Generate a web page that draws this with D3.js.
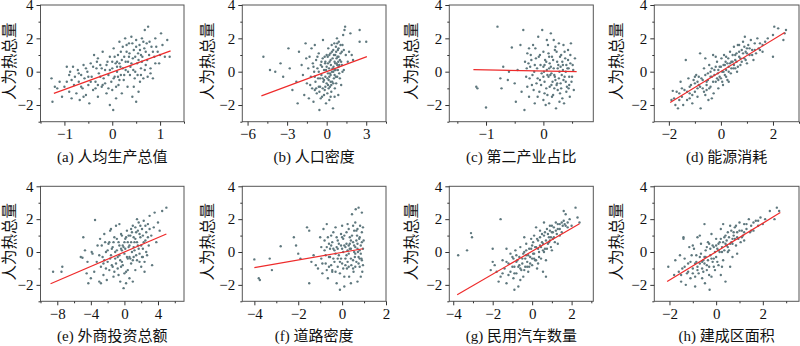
<!DOCTYPE html>
<html><head><meta charset="utf-8">
<script src="https://cdn.jsdelivr.net/npm/d3@7/dist/d3.min.js"></script>
<style>html,body{margin:0;padding:0;background:#fff;}svg{display:block;}</style>
</head><body>
<svg id="chart" width="800" height="346"></svg>
<script>
const captions = ["(a) 人均生产总值","(b) 人口密度","(c) 第二产业占比","(d) 能源消耗","(e) 外商投资总额","(f) 道路密度","(g) 民用汽车数量","(h) 建成区面积"];
const yLabel = "人为热总量";
const yDomain = [-3, 4];
const yTicks = [-2, 0, 2, 4];
const yMinor = [-3, -1, 1, 3];
const xDomains = [[-1.5,1.5],[-6.4,4.5],[-1.64,0.87],[-2.56,3.0],[-10,7.1],[-4.55,2],[-4.2,3.1],[-2.65,3.55]];
const xTicks = [[-1,0,1],[-6,-3,0,3],[-1,0],[-2,0,2],[-8,-4,0,4],[-4,-2,0,2],[-4,-2,0,2],[-2,0,2]];
const xMinor = [[-1.5,-0.5,0.5,1.5],[-4.5,-1.5,1.5,4.5],[-1.5,-0.5,0.5],[-1,1,3],[-10,-6,-2,2,6],[-3,-1,1],[-3,-1,1,3],[-1,1,3]];
const fitX = [[-1.22,1.22],[-4.95,3.05],[-1.22,0.58],[-1.95,2.45],[-8.8,5.0],[-4.0,0.95],[-3.8,2.4],[-2.1,2.75]];
const fitY = [[-1.3,1.25],[-1.45,0.9],[0.12,0.0],[-1.85,2.35],[-1.93,1.1],[-0.95,0.2],[-2.6,1.72],[-1.8,2.4]];

const ptsA = [[-1.27,-0.4],[-1.25,-1.8],[-1.15,-1.0],[-1.1,-0.6],[-1.05,-1.5],[-1.0,-0.9],[-0.95,0.3],[-0.9,-0.2],[-0.9,-1.2],[-0.88,0.0],[-0.85,-0.5],[-0.85,-1.6],[-0.82,0.3],[-0.8,-0.8],
[-0.78,-0.3],[-0.75,-1.3],[-0.72,0.1],[-0.7,-0.6],[-0.68,-1.7],[-0.65,-0.2],[-0.62,-1.0],[-0.6,0.4],[-0.58,-0.4],[-0.55,-1.4],[-0.52,0.0],[-0.5,-0.8],[-0.48,-1.9],[-0.45,0.5],[-0.43,-0.3],[-0.4,-1.1],[-0.38,1.0],[-0.35,-0.6],[-0.33,0.2],[-0.3,-1.5],[-0.3,0.8],
[-0.28,-0.1],[-0.25,0.4],[-0.22,-0.9],[-0.2,1.2],[-0.18,-0.4],[-0.15,0.1],[-0.12,-1.3],[-0.1,0.6],[-0.08,-0.2],[-0.05,-2.0],[-0.05,0.9],[-0.02,-0.6],[0.0,0.2],[0.0,-1.1],[0.02,-2.3],[0.03,1.4],[0.05,-0.3],[0.07,0.5],[0.08,-1.6],[0.1,0.0],[0.12,1.0],[0.13,-0.8],[0.15,1.8],[0.17,0.3],[0.18,-0.2],[0.2,-1.3],[0.2,0.7],
[0.22,1.5],[0.24,-0.5],[0.25,0.9],[0.27,2.0],[0.28,0.1],[0.3,1.2],[0.32,-0.9],[0.33,0.6],[0.35,1.7],[0.37,-0.2],[0.38,0.3],[0.4,2.1],[0.42,-1.5],[0.43,0.8],[0.45,1.3],[0.47,-0.4],[0.48,0.0],[0.5,1.9],[0.5,-1.8],[0.52,0.5],[0.54,1.1],[0.55,-1.2],[0.57,1.6],[0.58,-0.6],[0.6,0.2],
[0.62,2.0],[0.63,0.9],[0.65,-0.4],[0.67,1.4],[0.68,2.5],[0.7,0.4],[0.72,1.7],[0.74,-0.3],[0.75,2.7],[0.77,1.0],[0.8,0.2],[0.82,1.5],[0.85,-0.4],[0.88,0.9],[0.9,2.0],[0.95,1.2],[0.98,0.5],[1.02,2.3],[1.05,1.6],[1.1,0.9],[1.15,1.9],[1.2,0.9],
[-0.6,-1.5],[-0.2,-0.8],[0.1,0.6],[0.35,0.9],[0.45,-0.9],[-0.4,0.3],[0.6,1.0],[0.15,-0.5],
[-0.95,-0.6],[-0.7,-0.1],[-0.65,-0.9],[-0.55,0.2],[-0.5,-0.3],[-0.45,-0.6],[-0.35,-1.0],[-0.32,0.6],[-0.25,-0.3],[-0.22,0.2],[-0.15,-0.7],[-0.12,0.4],[-0.08,-1.0],[-0.05,0.1],[0.0,0.6],[0.03,-0.4],[0.05,0.9],[0.08,-0.9],[0.1,0.3],[0.12,-0.3],[0.15,0.5],[0.18,1.2],[0.22,0.2],[0.25,-0.2],[0.28,0.6],[0.3,1.6],[0.33,0.0],[0.36,1.1],[0.4,0.5],[0.42,1.7],[0.44,0.1],[0.48,0.9],[0.5,1.5],[0.53,-0.2],[0.55,0.7],[0.58,1.3],[0.6,-0.2],[0.62,0.6],[0.65,1.8],[0.68,0.1],[0.7,1.2],[0.73,0.7],[0.78,1.8],[0.8,-0.1],[0.85,1.2],[0.9,0.5],[0.92,1.5],[1.0,1.0],[-1.2,-0.9],[-0.3,-0.8]];

const ptsB = [[-4.8,0.9],[-4.3,0.1],[-3.9,0.0],[-3.5,0.5],[-3.3,-0.3],[-2.9,1.4],[-2.8,0.2],[-2.6,-1.1],[-2.3,-0.6],[-2.2,-1.9],[-2.1,1.2],[-1.9,0.4],[-1.8,-0.2],[-1.7,-1.4],[-1.6,1.7],[-1.55,0.8],[-1.5,-0.7],
[-1.4,0.2],[-1.35,-1.6],[-1.3,0.9],[-1.2,-0.3],[-1.15,1.4],[-1.1,-1.0],[-1.05,0.5],[-1.0,-1.8],[-0.95,0.0],[-0.9,1.6],[-0.85,-0.6],[-0.8,0.7],[-0.75,-1.3],[-0.7,0.2],[-0.65,-0.4],[-0.6,1.1],[-0.55,-2.3],[-0.5,-0.9],[-0.45,0.4],[-0.4,-0.2],[-0.35,-1.5],[-0.3,0.8],[-0.28,1.9],[-0.25,-0.6],[-0.2,0.1],[-0.15,-1.1],[-0.12,0.5],[-0.1,-0.3],[-0.05,-1.9],[0.0,0.3],[0.0,-0.7],
[0.05,-1.3],[0.08,0.9],[0.1,-0.1],[0.12,1.4],[0.15,-0.5],[0.18,0.2],[0.2,-1.7],[0.22,0.6],[0.25,-0.9],[0.28,1.1],[0.3,-0.2],[0.32,0.4],[0.35,-1.2],[0.38,1.6],[0.4,0.0],[0.42,-0.6],[0.45,0.8],[0.48,-2.2],[0.5,1.3],[0.52,0.3],[0.55,-0.4],[0.58,1.7],[0.6,0.6],[0.62,-1.0],[0.65,1.0],[0.68,0.1],[0.7,1.5],[0.72,-0.7],[0.75,0.5],[0.78,2.0],[0.8,-0.3],[0.82,0.9],[0.85,1.3],[0.88,-1.4],[0.9,0.3],[0.92,1.8],[0.95,-0.1],[1.0,0.7],[1.05,1.1],[1.1,-0.8],[1.15,0.4],[1.2,1.6],[1.25,2.2],[1.3,0.1],[1.35,2.5],[1.4,2.7],[1.45,1.0],
[1.6,0.6],[1.7,1.2],[1.8,2.3],[1.9,1.0],[2.0,0.7],[2.5,2.5],[2.5,1.8],[3.0,1.8],
[-0.6,-0.9],[-0.3,-0.4],[0.3,-0.6],[0.6,-0.2],[-0.9,-1.1],[0.2,-0.3],[0.9,0.9],[-0.1,0.6],
[-1.25,-0.8],[-1.0,0.3],[-0.9,-0.3],[-0.8,-1.0],[-0.7,0.9],[-0.6,0.0],[-0.5,-0.4],[-0.45,-1.6],[-0.4,0.6],[-0.3,-1.0],[-0.2,-0.5],[-0.15,0.9],[-0.1,-0.9],[-0.05,0.1],[0.0,1.0],[0.05,-0.4],[0.1,0.5],[0.15,-1.0],[0.2,1.0],[0.25,-0.1],[0.3,0.7],[0.35,-0.8],[0.4,1.2],[0.45,0.2],[0.5,-0.7],[0.55,1.0],[0.6,0.1],[0.65,0.5],[0.7,-0.3],[0.72,1.2],[0.75,0.8],[0.8,1.7],[0.85,0.1],[0.88,0.6],[0.9,1.4],[0.95,0.4],[1.0,-0.4],[1.05,1.6],[1.1,0.6],[1.15,1.2],[1.2,0.0],[1.3,1.3],[-0.55,-1.2],[0.3,-1.5],[0.6,-1.5],[-0.35,0.3],[0.1,-0.8],[0.5,0.0],[-0.2,-1.4],[0.8,0.4]];

const ptsC = [[-1.17,-0.9],[-1.15,-1.0],[-1.0,-2.15],[-0.8,2.7],[-0.75,-0.4],[-0.73,-1.0],[-0.7,0.3],[-0.62,-0.5],[-0.6,0.0],[-0.55,1.45],[-0.5,-0.7],[-0.48,-1.8],[-0.45,0.1],[-0.4,1.6],[-0.38,-1.2],[-0.35,2.5],[-0.33,-2.3],[-0.32,0.6],
[-0.3,-0.3],[-0.28,1.1],[-0.25,-1.5],[-0.23,0.3],[-0.2,-0.8],[-0.18,1.6],[-0.16,0.0],[-0.15,-1.9],[-0.13,0.8],[-0.1,-0.4],[-0.09,2.1],[-0.07,-1.2],[-0.05,0.4],[-0.03,-0.1],[-0.02,2.5],[0.0,-1.7],[0.0,1.2],[0.02,-0.6],[0.03,0.7],[0.05,-1.0],[0.06,0.1],[0.08,1.6],[0.09,-0.3],[0.1,-1.9],[0.11,0.5],[0.13,2.3],[0.14,-0.8],[0.15,0.9],[0.17,-1.4],[0.18,0.2],[0.2,1.3],[0.21,-0.5],[0.22,-2.2],[0.24,0.6],[0.25,-1.1],[0.27,1.7],[0.28,0.0],[0.3,-0.7],[0.31,1.0],[0.33,-1.6],[0.34,0.4],[0.35,1.6],[0.37,-0.3],[0.38,0.8],[0.4,-1.2],[0.42,0.2],[0.43,1.3],[0.45,-0.8],[0.47,0.5],[0.5,-0.3],[0.52,0.1],[0.55,0.8],
[-0.28,-0.9],[-0.22,1.0],[-0.12,-0.7],[-0.08,0.9],[0.04,-2.0],[0.12,-0.2],[0.19,-1.0],[0.26,0.4],[0.32,-0.2],[0.36,-1.9],[0.44,-1.0],[0.48,1.7],[-0.26,0.5],[-0.14,1.4],[0.0,0.3],[0.16,-0.6],
[-0.06,-0.5],[0.07,-1.4],[0.23,1.2],[0.29,-1.3],[0.39,-0.6],[-0.19,-0.2],[0.1,0.9],[0.46,-1.5],
[-0.29,0.2],[-0.24,-0.4],[-0.21,0.7],[-0.17,-1.1],[-0.11,0.2],[-0.06,1.0],[-0.04,-0.8],[0.01,0.0],[0.02,-1.3],[0.05,0.6],[0.07,-0.2],[0.09,1.1],[0.11,-0.9],[0.13,0.3],[0.15,-1.5],[0.17,0.7],[0.19,-0.2],[0.21,1.5],[0.23,-0.8],[0.25,0.2],[0.27,-0.4],[0.29,0.9],[0.31,-1.0],[0.33,0.6],[0.35,-0.5],[0.37,1.2],[0.39,0.0],[0.41,-0.9],[0.43,0.7],[0.45,-0.3],[0.47,1.0],[0.49,-0.6],[0.51,0.4],[0.53,-1.1],[0.1,0.2],[0.2,-0.3],[0.3,0.3],[0.4,0.4],[0.0,-0.3],[-0.15,0.4],[-0.25,1.4],[0.06,1.9],[0.28,-1.8],[0.18,1.9],[-0.1,-1.5],[0.14,-0.1],[0.24,-0.7],[0.34,0.1],[0.44,0.2],[0.02,0.4]];

const ptsD = [[-1.85,-1.15],[-1.8,-1.6],[-1.75,-2.0],[-1.7,-1.2],[-1.65,-2.2],[-1.6,-1.7],[-1.55,-0.6],[-1.5,-1.5],[-1.45,-2.0],[-1.4,-1.1],[-1.35,0.7],[-1.3,-1.7],[-1.25,-0.4],[-1.2,-1.3],[-1.15,-0.8],[-1.1,-1.9],[-1.05,-0.5],[-1.0,-1.2],[-0.95,-0.2],[-0.9,-1.5],[-0.85,-0.8],[-0.8,1.1],[-0.78,-2.2],[-0.75,-0.4],[-0.7,-1.0],[-0.65,0.2],[-0.6,-1.4],[-0.55,-0.6],[-0.5,-0.1],[-0.48,-1.7],[-0.45,0.4],[-0.4,-0.9],[-0.35,-0.3],[-0.3,1.0],[-0.28,-1.3],[-0.25,0.1],[-0.2,-0.6],[-0.15,0.6],[-0.12,-0.1],[-0.1,-1.0],[-0.05,0.3],[0.0,-0.4],[0.02,0.8],[0.05,0.0],[0.08,-0.8],[0.1,0.4],[0.12,1.0],[0.15,-0.2],[0.18,0.6],[0.2,0.1],[0.25,-0.5],[0.28,0.8],[0.3,0.3],[0.35,1.2],[0.38,-0.1],[0.4,0.6],[0.45,1.0],[0.48,0.2],[0.5,1.5],[0.55,0.7],[0.6,1.1],[0.62,0.0],[0.65,1.6],[0.7,0.9],[0.75,0.4],[0.8,1.3],[0.85,1.8],[0.9,0.8],[0.92,2.1],[0.95,1.2],[1.0,0.5],[1.05,1.6],[1.1,1.0],[1.15,1.9],[1.2,1.3],[1.25,0.7],[1.3,1.7],[1.35,1.1],[1.4,2.0],[1.45,1.4],[1.5,1.7],[1.6,1.2],[1.7,1.8],[1.8,2.0],[2.0,0.9],[2.05,2.7],[2.0,2.2],[2.2,2.6],[2.4,1.9],[2.5,2.5],[2.45,2.3],[-0.6,0.8],[-0.35,-1.6],[0.3,-0.6],[-1.0,-0.3],[0.7,1.6],[-0.2,0.9],
[-0.9,-0.6],[-0.55,-1.1],[-0.1,-0.5],[0.2,0.9],[0.55,0.2],[1.0,1.4],[-1.2,-1.6],[-0.4,0.0],
[-1.9,-1.7],[-1.6,-1.3],[-1.5,-1.0],[-1.3,-1.2],[-1.2,-0.9],[-1.1,-1.4],[-1.0,-0.7],[-0.9,-1.0],[-0.85,-0.3],[-0.8,-0.9],[-0.7,-0.5],[-0.65,-1.2],[-0.6,-0.2],[-0.55,-0.8],[-0.5,-0.5],[-0.45,-1.0],[-0.4,-0.3],[-0.35,0.2],[-0.3,-0.6],[-0.25,-0.2],[-0.2,0.3],[-0.15,-0.4],[-0.1,0.1],[-0.05,-0.3],[0.0,0.3],[0.05,-0.6],[0.1,0.0],[0.15,0.4],[0.2,-0.3],[0.25,0.5],[0.3,0.0],[0.35,0.5],[0.4,0.2],[0.45,0.6],[0.5,0.4],[0.55,1.0],[0.6,0.6],[0.65,0.3],[0.7,1.2],[0.75,0.8],[0.8,0.6],[0.85,1.1],[0.9,1.5],[0.95,0.7],[1.0,1.1],[1.1,1.4],[1.2,1.0],[1.3,1.3],[1.5,1.3],[1.6,1.6]];

const ptsE = [[-8.5,-1.2],[-7.5,-1.2],[-7.4,-0.9],[-5.2,-0.3],[-5.0,-0.35],[-4.9,0.9],[-4.7,0.1],[-4.5,-1.3],[-4.4,-0.6],[-4.3,-1.9],[-4.0,-1.6],[-3.8,-0.1],[-3.6,-1.2],[-3.5,1.95],[-3.3,-0.6],[-3.2,0.4],[-3.0,-1.8],[-2.9,0.8],[-2.8,-0.9],[-2.6,-0.3],[-2.5,-1.4],[-2.4,1.1],[-2.2,0.0],[-2.1,-1.7],[-2.0,-0.6],[-1.9,0.5],[-1.8,-1.1],[-1.7,1.3],[-1.6,-0.2],[-1.5,-0.8],[-1.4,0.3],[-1.3,-1.5],[-1.2,0.9],[-1.1,-0.4],[-1.0,1.6],[-0.9,0.1],[-0.8,-1.0],[-0.7,0.6],[-0.6,-0.2],[-0.5,-1.8],[-0.4,1.1],[-0.3,-0.6],[-0.2,0.4],[-0.1,-2.2],[0.0,-0.1],[0.1,0.8],[0.2,-1.2],[0.3,1.3],[0.4,-0.4],[0.5,0.3],[0.6,-1.6],[0.7,1.0],[0.8,-0.7],[0.9,0.0],[1.0,1.6],[1.1,-0.3],[1.2,0.6],[1.3,-1.1],[1.4,1.2],[1.5,-0.5],[1.6,0.4],[1.7,1.8],[1.8,-0.1],[1.9,0.9],[2.0,-0.9],[2.1,1.4],[2.2,0.2],[2.3,1.9],[2.4,-0.6],[2.5,0.7],[2.6,1.2],[2.7,-0.2],[2.8,1.7],[2.9,0.4],[3.0,2.2],[3.2,1.0],[3.3,-0.8],[3.5,1.5],[3.6,2.4],[3.8,0.6],[4.0,1.8],[4.5,2.5],[5.0,2.7],[4.2,1.3],[-1.6,1.4],[-0.6,1.7],[0.8,1.4],[1.5,2.0],[-2.8,-1.9],[0.2,-1.9],[1.0,-1.8],[2.4,-1.2],[-3.9,0.0],[-0.3,0.1],[0.6,-0.3],[1.3,0.8],
[-1.2,-1.2],[-0.4,-0.9],[0.4,0.6],[1.1,0.3],[1.8,1.1],[2.2,-0.3],[0.0,0.6],[-2.4,-0.5],
[-3.0,-0.2],[-2.7,0.4],[-2.5,-0.7],[-2.3,0.6],[-2.2,-1.0],[-2.0,0.1],[-1.8,0.6],[-1.7,-0.4],[-1.5,0.2],[-1.4,-0.9],[-1.3,0.6],[-1.1,0.0],[-1.0,-0.7],[-0.9,0.8],[-0.8,-0.3],[-0.7,-1.4],[-0.6,0.4],[-0.5,-0.5],[-0.4,0.2],[-0.3,1.0],[-0.2,-0.8],[-0.1,0.3],[0.0,-1.3],[0.1,0.2],[0.2,0.9],[0.3,-0.3],[0.4,-1.1],[0.5,1.0],[0.6,0.4],[0.7,-0.4],[0.8,0.6],[0.9,1.2],[1.0,-0.5],[1.1,0.9],[1.2,0.1],[1.3,1.5],[1.4,-0.2],[1.5,0.6],[1.6,1.3],[1.7,0.2],[1.8,-0.6],[1.9,1.6],[2.0,0.4],[2.1,-0.3],[2.2,1.0],[2.3,0.6],[2.5,1.6],[2.6,0.0],[2.8,0.9],[3.0,1.4]];

const ptsF = [[-4.0,-0.45],[-3.8,-1.6],[-3.75,-1.7],[-3.3,-0.4],[-3.2,-1.1],[-2.8,0.35],[-2.2,0.9],[-2.1,0.4],[-2.0,-0.1],[-1.9,-0.4],[-1.6,1.5],[-1.5,1.3],[-1.4,-0.6],[-1.3,-0.2],[-1.2,-0.8],[-1.1,-1.0],[-1.0,0.9],[-0.9,-1.3],[-0.85,1.4],[-0.8,0.1],[-0.75,-0.7],[-0.7,1.7],[-0.65,-1.6],[-0.6,0.5],[-0.55,-0.3],[-0.5,1.0],[-0.45,-1.1],[-0.4,0.2],[-0.35,-0.6],[-0.3,1.5],[-0.25,-1.9],[-0.2,0.7],[-0.15,-0.2],[-0.1,-1.3],[-0.05,0.4],[0.0,-0.7],[0.0,1.6],[0.05,0.0],[0.1,-2.1],[0.1,1.0],[0.15,-0.4],[0.2,0.5],[0.22,-1.0],[0.25,1.7],[0.3,-0.1],[0.32,-1.5],[0.35,0.9],[0.4,0.2],[0.42,-0.8],[0.45,2.3],[0.5,0.6],[0.52,-1.2],[0.55,1.3],[0.58,-0.3],[0.6,0.3],[0.62,2.6],[0.65,-0.6],[0.68,1.0],[0.7,-1.8],[0.72,0.0],[0.75,2.7],[0.78,0.8],[0.8,-0.9],[0.82,1.6],[0.85,0.4],[0.88,-0.4],[0.9,2.4],[0.9,1.2],[0.92,-1.2],[0.95,0.2],[0.98,0.7],[-0.95,-0.4],[-0.6,-0.9],[-0.4,1.2],[-0.2,-0.9],[0.05,0.8],[0.3,1.4],[0.5,-0.5],[0.7,0.5],[0.85,-1.5],[-0.7,0.3],[-0.3,-0.1],[0.15,0.3],[0.4,-1.9],[0.6,1.8],[0.8,0.1],[-1.5,-1.9],[-0.1,-2.3],[-0.45,-1.2],
[-0.05,-0.4],[0.25,-0.6],[0.55,0.0],[0.75,-0.3],[0.35,0.2],[-0.25,0.3],[0.65,1.3],[0.95,-0.8],
[-0.95,0.3],[-0.9,-0.7],[-0.8,0.7],[-0.75,-0.2],[-0.7,-1.1],[-0.65,0.9],[-0.6,-0.3],[-0.55,0.2],[-0.5,-0.8],[-0.45,0.6],[-0.4,-0.4],[-0.35,0.1],[-0.3,-1.2],[-0.25,0.9],[-0.2,-0.4],[-0.15,0.5],[-0.1,-0.6],[-0.05,1.1],[0.0,0.2],[0.05,-1.0],[0.1,0.4],[0.15,-0.8],[0.2,1.2],[0.25,0.1],[0.3,-0.9],[0.35,0.5],[0.4,-0.4],[0.45,1.0],[0.5,-1.0],[0.55,0.4],[0.6,-0.9],[0.65,0.7],[0.7,1.4],[0.75,-0.7],[0.8,0.9],[0.85,-0.1],[0.9,0.6],[0.95,1.5],[0.2,-0.2],[0.4,0.7],[0.6,-0.1],[0.8,-0.4],[0.0,0.9],[-0.2,0.2],[0.3,0.4],[0.7,0.2],[0.9,-0.5],[0.5,1.6],[0.1,-1.5],[-0.5,0.4]];

const ptsG = [[-3.75,-0.2],[-3.3,0.1],[-3.1,1.15],[-3.05,0.9],[-1.6,2.0],[-2.0,-0.6],[-2.1,-1.1],[-1.9,-0.8],[-1.8,-1.2],[-1.7,-1.8],[-1.6,-1.5],[-1.5,-0.5],[-1.4,-1.0],[-1.3,-1.9],[-1.2,-0.7],[-1.1,-1.2],[-1.0,-0.3],[-0.95,-1.6],[-0.9,-0.9],[-0.85,0.1],[-0.8,-1.3],[-0.75,-0.5],[-0.7,-2.1],[-0.65,-0.8],[-0.6,0.3],[-0.55,-1.1],[-0.5,-0.4],[-0.45,-1.5],[-0.4,0.0],[-0.35,-0.9],[-0.3,0.5],[-0.25,-0.6],[-0.2,-1.2],[-0.15,0.2],[-0.1,-0.3],[-0.05,0.8],[0.0,-0.8],[0.0,0.4],[0.05,-0.1],[0.1,1.0],[0.15,-0.5],[0.2,0.3],[0.25,-1.0],[0.3,0.7],[0.35,0.0],[0.4,1.3],[0.45,-0.4],[0.5,0.6],[0.55,-1.2],[0.6,1.0],[0.65,0.2],[0.7,-0.5],[0.75,1.4],[0.8,0.5],[0.85,0.9],[0.9,1.6],[0.95,0.3],[1.0,1.2],[1.05,0.8],[1.1,1.5],[1.15,0.6],[1.2,1.8],[1.25,1.1],[1.3,1.4],[1.4,1.7],[1.5,1.2],[1.6,2.5],[1.65,1.7],[1.7,2.3],[1.8,1.5],[1.9,2.0],[2.0,1.6],[2.2,2.7],[2.3,2.1],[2.4,1.8],[-2.0,0.2],[-1.3,0.2],[-0.9,-2.3],[-0.4,0.9],[0.2,1.5],[0.7,-1.5],[1.0,0.1],[-0.6,-1.7],[0.3,-0.7],[1.3,0.5],[0.6,1.8],[-1.1,-0.1],
[-0.3,-0.2],[0.1,-0.4],[0.4,0.4],[-0.8,-0.6],[0.9,0.7],[-0.15,-0.9],[0.55,0.1],[1.4,1.0],
[-1.5,-1.3],[-1.3,-0.6],[-1.2,-1.4],[-1.0,-0.9],[-0.95,-0.4],[-0.9,-1.3],[-0.8,-0.2],[-0.7,-0.9],[-0.65,-0.3],[-0.6,-1.0],[-0.5,-0.7],[-0.45,-0.1],[-0.4,-1.1],[-0.35,-0.4],[-0.3,0.1],[-0.25,-0.9],[-0.2,-0.2],[-0.1,-0.7],[-0.05,0.2],[0.0,-0.4],[0.05,0.6],[0.1,-0.1],[0.15,0.3],[0.2,-0.5],[0.25,0.8],[0.3,0.2],[0.35,-0.3],[0.4,0.9],[0.45,0.3],[0.5,1.1],[0.55,0.5],[0.6,0.0],[0.65,1.2],[0.7,0.7],[0.75,0.2],[0.8,1.1],[0.85,0.6],[0.9,1.3],[0.95,0.9],[1.0,1.6],[1.05,1.2],[1.1,0.9],[1.2,1.3],[1.3,1.7],[1.4,1.4],[1.5,1.8],[1.55,1.6],[1.6,1.9],[1.7,1.6],[1.8,1.8]];

const ptsH = [[-2.05,-0.9],[-1.75,-0.5],[-1.6,-1.2],[-1.55,-0.2],[-1.5,-1.8],[-1.45,-1.0],[-1.4,0.8],[-1.4,0.9],[-1.35,-0.4],[-1.3,-2.0],[-1.25,-1.3],[-1.2,-0.7],[-1.15,0.3],[-1.1,-1.6],[-1.05,-0.2],[-1.0,-1.0],[-0.95,0.2],[-0.9,-2.1],[-0.85,-0.6],[-0.8,0.9],[-0.75,-1.3],[-0.7,-0.3],[-0.65,0.5],[-0.6,-1.0],[-0.55,-0.5],[-0.5,1.7],[-0.48,-1.9],[-0.45,0.1],[-0.4,-0.8],[-0.35,0.6],[-0.3,-1.4],[-0.28,-2.3],[-0.25,-0.2],[-0.2,1.1],[-0.15,-0.6],[-0.1,0.3],[-0.05,-1.1],[0.0,0.8],[0.0,-0.3],[0.05,0.2],[0.1,-0.8],[0.15,0.6],[0.2,1.4],[0.25,0.0],[0.3,-0.5],[0.35,0.9],[0.4,-1.8],[0.45,0.4],[0.5,1.2],[0.55,0.1],[0.6,1.6],[0.65,0.6],[0.7,-0.3],[0.75,1.0],[0.8,1.5],[0.85,0.4],[0.9,1.2],[0.95,0.8],[1.0,1.8],[1.05,0.6],[1.1,1.3],[1.15,1.0],[1.2,1.7],[1.3,1.4],[1.4,2.0],[1.45,1.2],[1.5,1.6],[1.6,1.3],[1.7,1.9],[1.8,1.6],[1.9,2.1],[2.0,1.7],[2.3,2.5],[2.5,2.0],[2.6,2.7],[2.7,2.5],[-0.7,1.0],[-1.0,0.4],[0.3,1.7],[-0.6,-1.6],[0.9,-0.1],[0.2,-1.4],[-0.2,-1.5],[-0.9,-1.5],[0.6,-0.9],[1.2,0.7],[-0.3,0.5],[0.4,0.5],
[-0.5,-0.3],[-0.1,-0.4],[0.1,0.1],[-0.4,-1.1],[0.5,0.0],[0.7,0.8],[-0.8,-0.9],[0.25,-0.9],
[-1.8,-1.4],[-1.5,-1.4],[-1.35,-0.9],[-1.2,-1.2],[-1.1,-0.6],[-1.0,-1.3],[-0.9,-0.7],[-0.85,-0.2],[-0.8,-1.1],[-0.7,-0.7],[-0.65,-0.1],[-0.6,-0.6],[-0.55,-1.2],[-0.5,-0.7],[-0.45,-0.3],[-0.4,0.3],[-0.35,-0.5],[-0.3,-0.9],[-0.25,0.2],[-0.2,-0.4],[-0.15,0.4],[-0.1,-0.9],[-0.05,0.0],[0.0,0.4],[0.05,-0.6],[0.1,0.5],[0.15,0.0],[0.2,0.8],[0.25,0.3],[0.3,0.6],[0.35,0.1],[0.4,1.0],[0.45,0.7],[0.5,0.3],[0.55,0.9],[0.6,0.5],[0.65,1.3],[0.7,0.5],[0.75,1.2],[0.8,0.8],[0.85,1.6],[0.9,0.9],[1.0,1.3],[1.1,0.9],[1.2,1.2],[1.3,1.7],[1.5,1.3],[1.6,1.8],[1.8,1.9],[2.1,2.0]];

const allPts = [ptsA, ptsB, ptsC, ptsD, ptsE, ptsF, ptsG, ptsH];

const svg = d3.select("#chart");
const colLeft = [40.5, 242.3, 449.3, 654.3];
const colRight = [184, 386, 593.3, 799];
const rowTop = [5, 186.3];
const rowBottom = [121.7, 301.3];
const yLabelX = [8, 206, 410, 615];
const serif = "'Liberation Serif','Times New Roman',serif";
const cjk = "'Liberation Serif','Noto Sans CJK SC',sans-serif";
const fmt = d3.format("~g");

allPts.forEach((pts, i) => {
  const col = i % 4, row = Math.floor(i / 4);
  const L = colLeft[col], R = colRight[col], T = rowTop[row], B = rowBottom[row];
  const x = d3.scaleLinear().domain(xDomains[i]).range([L, R]);
  const y = d3.scaleLinear().domain(yDomain).range([B, T]);
  const g = svg.append("g");

  g.append("g").selectAll("circle").data(pts).join("circle")
    .attr("cx", d => x(d[0])).attr("cy", d => y(d[1]))
    .attr("r", 1.2).attr("fill", "#5f787e");

  g.append("line")
    .attr("x1", x(fitX[i][0])).attr("y1", y(fitY[i][0]))
    .attr("x2", x(fitX[i][1])).attr("y2", y(fitY[i][1]))
    .attr("stroke", "#ee2b2b").attr("stroke-width", 1.2);

  g.append("rect").attr("x", L).attr("y", T).attr("width", R - L).attr("height", B - T)
    .attr("fill", "none").attr("stroke", "#555").attr("stroke-width", 1);

  const xa = g.append("g").attr("transform", `translate(0,${B})`)
    .call(d3.axisBottom(x).tickValues(xTicks[i]).tickFormat(fmt).tickSize(4).tickPadding(3));
  xa.attr("font-family", null).attr("font-size", null);
  xa.select(".domain").remove();
  xa.selectAll("line").attr("stroke", "#333");
  xa.selectAll("text").style("font-family", serif).style("font-size", "15px").attr("fill", "#111");
  const xm = g.append("g").attr("transform", `translate(0,${B})`)
    .call(d3.axisBottom(x).tickValues(xMinor[i].filter(v => v >= xDomains[i][0] - 0.01 && v <= xDomains[i][1] + 0.01)).tickSize(2).tickFormat(""));
  xm.select(".domain").remove();
  xm.selectAll("line").attr("stroke", "#333");

  const ya = g.append("g").attr("transform", `translate(${L},0)`)
    .call(d3.axisLeft(y).tickValues(yTicks).tickFormat(fmt).tickSize(4).tickPadding(3));
  ya.attr("font-family", null).attr("font-size", null);
  ya.select(".domain").remove();
  ya.selectAll("line").attr("stroke", "#333");
  ya.selectAll("text").style("font-family", serif).style("font-size", "15px").attr("fill", "#111");
  const ym = g.append("g").attr("transform", `translate(${L},0)`)
    .call(d3.axisLeft(y).tickValues(yMinor).tickSize(2).tickFormat(""));
  ym.select(".domain").remove();
  ym.selectAll("line").attr("stroke", "#333");

  const cy = (T + B) / 2 - 2;
  g.append("text").attr("transform", `translate(${yLabelX[col]},${cy}) rotate(-90)`)
    .attr("text-anchor", "middle").attr("dominant-baseline", "central")
    .style("font-family", "'Noto Sans CJK SC',sans-serif").style("font-size", "15.5px").attr("fill", "#111")
    .text(yLabel);

  g.append("text").attr("x", (L + R) / 2).attr("y", B + 40)
    .attr("text-anchor", "middle").style("font-family", cjk).style("font-size", "15px").attr("fill", "#111")
    .text(captions[i]);
});
</script>
</body></html>
